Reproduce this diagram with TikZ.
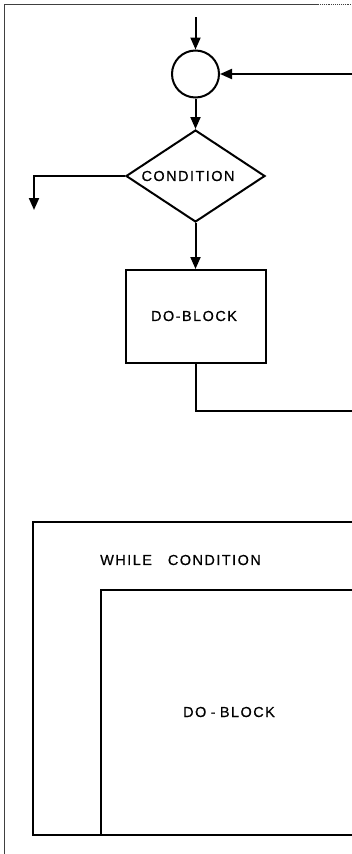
\documentclass[tikz,border=0pt]{standalone}
\usepackage{fontspec}
\newfontfamily\lab[LetterSpace=10,FakeBold=0.6]{Liberation Sans}
\usetikzlibrary{shapes.geometric,arrows.meta}
\begin{document}
\begin{tikzpicture}[x=1pt,y=-1pt,
  ln/.style={line width=2pt},
  arr/.style={ln,-{Triangle[length=12pt,width=10pt]}},
  txt/.style={font=\lab\fontsize{14.5}{16}\selectfont,inner sep=0pt},
  frame/.style={line width=0.9pt,draw=black!75}]
\useasboundingbox (0,0) rectangle (352,854);
% page frame
\draw[frame] (4,854) -- (4,4) -- (318,4);
\draw[frame,densely dotted] (318,4) -- (352,4);
% flowchart
\node[circle,draw,ln,minimum size=47pt,inner sep=0pt] (j) at (195.5,74) {};
\node[diamond,draw,ln,minimum width=139pt,minimum height=92pt,inner sep=0pt] (c) at (195.5,176) {};
\node[txt] (ct) at (188,176) {CONDITION};
\node[rectangle,draw,ln,minimum width=140pt,minimum height=93pt,inner sep=0pt] (b) at (195.5,316.5) {};
\node[txt] (bt) at (194,316) {DO-BLOCK};
\coordinate (top) at (195.5,17);
\coordinate (rin) at (352,74);
\coordinate (lexit) at (34,210);
\coordinate (rloop) at (352,411);
\draw[arr] (top) -- (j.north);
\draw[arr] (rin) -- (j.east);
\draw[arr] (j.south) -- (c.north);
\draw[arr] (c.west) -| (lexit);
\draw[arr] (c.south) -- (b.north);
\draw[ln] (b.south) |- (rloop);
% structured form
\coordinate (o1) at (356,522);
\coordinate (o2) at (33,522);
\coordinate (o3) at (33,835);
\coordinate (o4) at (356,835);
\coordinate (i1) at (356,590);
\coordinate (i2) at (101,590);
\coordinate (i3) at (101,835);
\draw[ln] (o1) -- (o2) -- (o3) -- (o4);
\draw[ln] (i1) -- (i2) -- (i3);
\node[txt,anchor=west] (wt) at (100,560) {WHILE\hspace{1.1em}CONDITION};
\node[txt] (dt) at (229,712) {DO\hspace{0.3em}-\hspace{0.3em}BLOCK};
\end{tikzpicture}
\end{document}
